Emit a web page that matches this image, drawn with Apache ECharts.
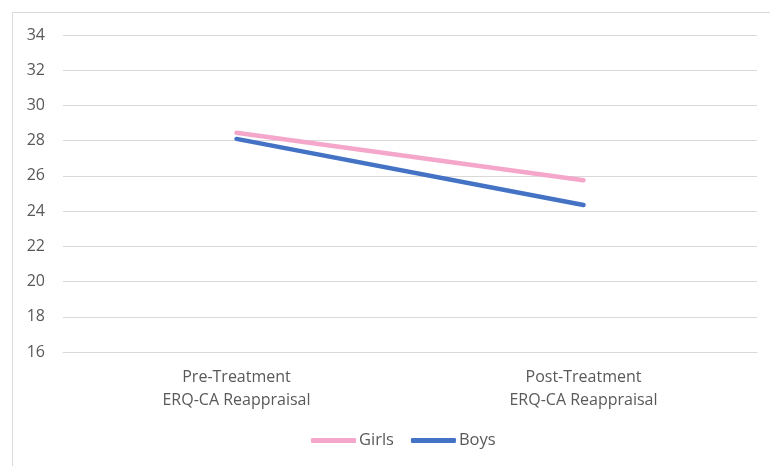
<!DOCTYPE html>
<html>
<head>
<meta charset="utf-8">
<style>
  html, body { margin: 0; padding: 0; background: #fff; }
  #chart { width: 770px; height: 466px; }
</style>
<script src="https://cdn.jsdelivr.net/npm/echarts@6/dist/echarts.min.js"></script>
</head>
<body>
<div id="chart"></div>
<script>
// Mean ERQ-CA reappraisal scores before and after treatment
const categories = ['Pre-Treatment\nERQ-CA Reappraisal', 'Post-Treatment\nERQ-CA Reappraisal'];
const girls = [28.45, 25.75];
const boys = [28.1, 24.35];
const yMin = 16, yMax = 34, yStep = 2;

const FONT = '"Open Sans", "Noto Sans", sans-serif';
const TEXT = '#595959';

const chart = echarts.init(document.getElementById('chart'), null, { renderer: 'canvas' });
chart.setOption({
  animation: false,
  backgroundColor: '#fff',
  graphic: [{
    type: 'rect',
    shape: { x: 12.5, y: 12.5, width: 800, height: 500 },
    style: { fill: 'none', stroke: '#d9d9d9', lineWidth: 1 },
    silent: true
  }],
  grid: { left: 63, right: 13, top: 35, bottom: 114, containLabel: false },
  legend: {
    bottom: 12,
    left: 306,
    itemWidth: 45,
    itemHeight: 5,
    itemGap: 17,
    icon: 'roundRect',
    textStyle: { color: TEXT, fontSize: 16.5, fontFamily: FONT, padding: [0, 0, 0, -2] },
    data: ['Girls', 'Boys']
  },
  xAxis: {
    type: 'category',
    data: categories,
    boundaryGap: true,
    axisLine: { show: true, lineStyle: { color: '#d9d9d9', width: 1 } },
    axisTick: { show: false },
    axisLabel: { color: TEXT, fontSize: 16, fontFamily: FONT, lineHeight: 23, margin: 14 }
  },
  yAxis: {
    type: 'value',
    min: yMin,
    max: yMax,
    interval: yStep,
    axisLine: { show: false },
    axisTick: { show: false },
    splitLine: { lineStyle: { color: '#d9d9d9', width: 1 } },
    axisLabel: { color: TEXT, fontSize: 16, fontFamily: FONT, margin: 18 }
  },
  series: [
    {
      name: 'Girls',
      type: 'line',
      data: girls,
      symbol: 'none',
      lineStyle: { color: '#F4A6CB', width: 4.5, cap: 'round' },
      itemStyle: { color: '#F4A6CB' }
    },
    {
      name: 'Boys',
      type: 'line',
      data: boys,
      symbol: 'none',
      lineStyle: { color: '#4472C4', width: 4.5, cap: 'round' },
      itemStyle: { color: '#4472C4' }
    }
  ]
});
</script>
</body>
</html>
